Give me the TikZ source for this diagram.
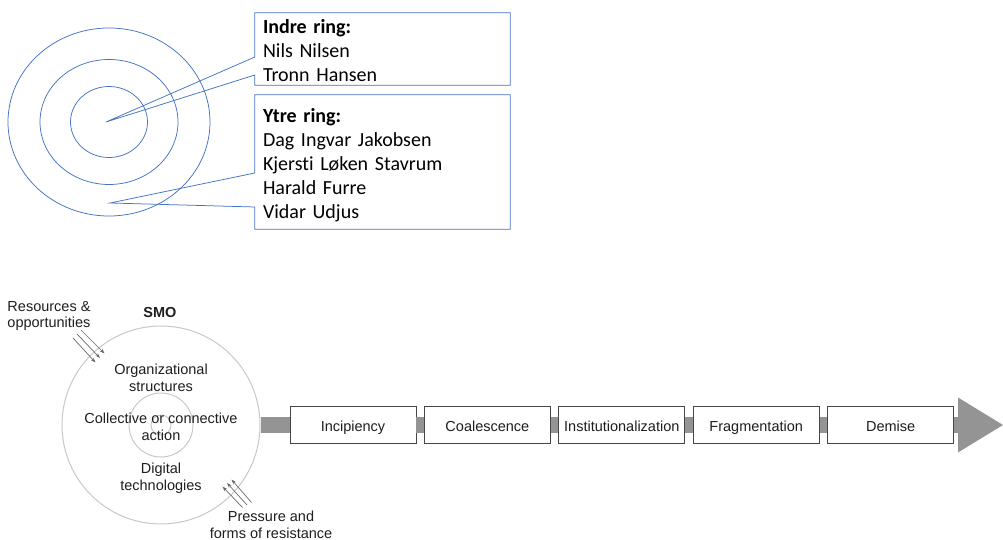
\documentclass[tikz,border=0pt]{standalone}
\usepackage{fontspec}
\setmainfont{Carlito}[Ligatures=NoCommon]
\newfontfamily\helv{Liberation Sans}
\usetikzlibrary{shapes.geometric,arrows.meta,positioning}
\definecolor{ringblue}{RGB}{68,114,196}
\definecolor{smogray}{RGB}{200,200,200}
\definecolor{bandgray}{RGB}{148,148,148}
\definecolor{boxline}{RGB}{70,70,70}
\definecolor{flowgray}{RGB}{105,105,105}
\definecolor{inkgray}{RGB}{30,30,30}
\newcommand{\lastline}[1]{\raisebox{0pt}[\height][0pt]{#1}}

\begin{document}
\begin{tikzpicture}[x=1pt, y=-1pt,
  ring/.style={ellipse, draw=ringblue, line width=0.75pt, inner sep=0pt},
  callout/.style={draw=ringblue, line width=0.75pt},
  names/.style={align=left, text width=239pt, inner xsep=8pt, inner ysep=0pt, font=\fontsize{20}{24}\selectfont},
  smoring/.style={circle, draw=smogray, line width=1pt, inner sep=0pt},
  label/.style={font=\helv\fontsize{14.5}{16.5}\selectfont, text=inkgray, align=center, inner sep=0pt},
  stage/.style={draw=boxline, fill=white, line width=0.9pt, minimum width=126pt, minimum height=37pt, inner sep=0pt, text height=15pt, text depth=2.2pt, font=\helv\fontsize{14.5}{16.5}\selectfont, text=inkgray},
  band/.style={draw=bandgray, line width=16pt},
  flow/.style={draw=flowgray, line width=0.7pt, -{Stealth[length=5pt, width=3.5pt]}},
]
\useasboundingbox (0,0) rectangle (1003,540);

\coordinate (core) at (109,122);
\node[ring, minimum width=202pt, minimum height=188pt] (ytrering) at (core) {};
\node[ring, minimum width=138pt, minimum height=125pt] (midring) at (core) {};
\node[ring, minimum width=77pt, minimum height=71pt] (indrering) at (core) {};
\coordinate (tipin) at (106,122);
\coordinate (tipout) at (110,203);

\node[names, minimum height=72pt] (indre) at (382.5,49) {\strut\textbf{Indre ring:}\\\strut Nils Nilsen\\\lastline{Tronn Hansen}};
\node[names, minimum height=134pt] (ytre) at (382.5,162) {\strut\textbf{Ytre ring:}\\\strut Dag Ingvar Jakobsen\\\strut Kjersti Løken Stavrum\\\strut Harald Furre\\\lastline{Vidar Udjus}};
\draw[callout] (indre.north west) -- (indre.north east) -- (indre.south east) -- (indre.south west) -- (indre.west |- 0,75) -- (tipin) -- (indre.west |- 0,57) -- cycle;
\draw[callout] (ytre.north west) -- (ytre.north east) -- (ytre.south east) -- (ytre.south west) -- (ytre.west |- 0,207) -- (tipout) -- (ytre.west |- 0,173) -- cycle;

\node[smoring, minimum size=198pt] (smo) at (161,425) {};
\node[smoring, minimum size=64pt] (smomid) at (smo) {};
\node[smoring, minimum size=20pt] (smohub) at (smo) {};
\node[label, font=\helv\bfseries\fontsize{14.5}{16.5}\selectfont] (smotitle) at (160,313) {SMO};
\node[label] (org) at (161,378) {Organizational\\structures};
\node[label] (act) at (161,427) {Collective or connective\\action};
\node[label] (dig) at (161,478) {Digital\\technologies};
\node[label] (res) at (49,316) {Resources \&\\opportunities};
\node[label] (pres) at (271,525) {Pressure and\\forms of resistance};

\coordinate (resfrom) at (77,334);
\coordinate (resto) at (100,358);
\foreach \s in {-1,0,1}
  \draw[flow] ([shift={(4*\s,-4*\s)}]resfrom) -- ([shift={(4.5*\s,-4.5*\s)}]resto);
\coordinate (presfrom) at (247,505);
\coordinate (presto) at (227,483);
\foreach \s in {-1,0,1}
  \draw[flow] ([shift={(4.5*\s,-2.5*\s)}]presfrom) -- ([shift={(4.5*\s,-3.5*\s)}]presto);

\node[stage] (inc) at (353,425) {Incipiency};
\node[stage, right=7.5pt of inc] (coa) {Coalescence};
\node[stage, right=7.5pt of coa] (ins) {Institutionalization};
\node[stage, right=7.5pt of ins] (fra) {Fragmentation};
\node[stage, right=7.5pt of fra] (dem) {Demise};
\coordinate (end) at (1003,425);

\draw[band] (smo) -- (inc);
\draw[band] (inc) -- (coa);
\draw[band] (coa) -- (ins);
\draw[band] (ins) -- (fra);
\draw[band] (fra) -- (dem);
\draw[band, -{Triangle[length=45pt, width=55pt, line width=0pt]}] (dem) -- (end);
\end{tikzpicture}
\end{document}
